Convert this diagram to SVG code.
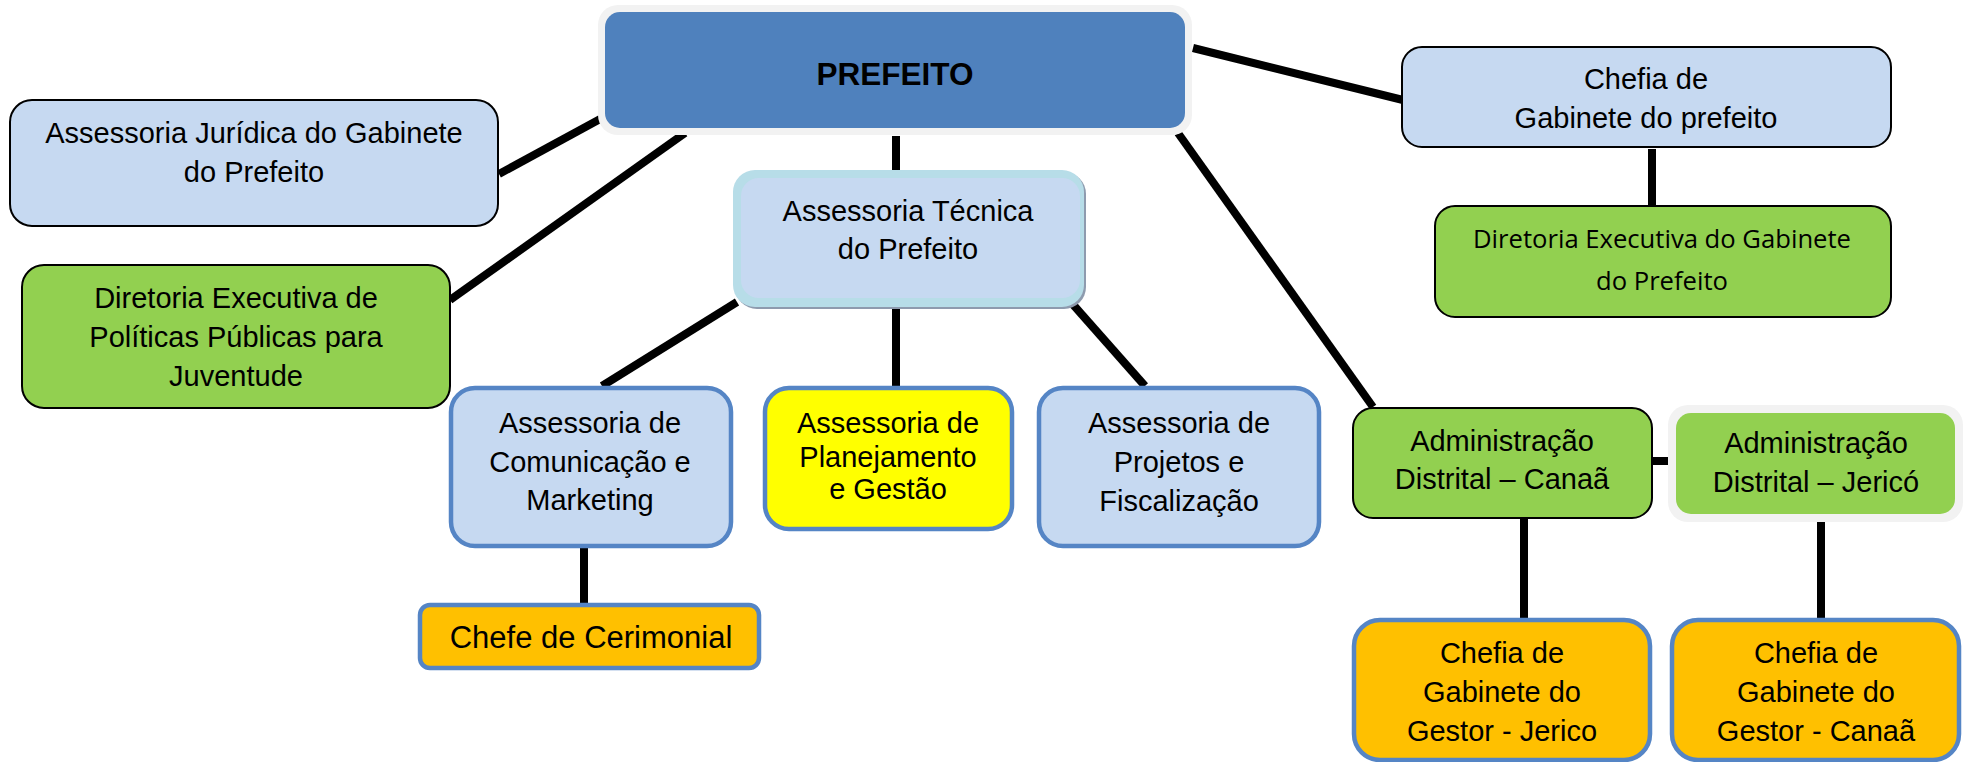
<svg xmlns="http://www.w3.org/2000/svg" width="1968" height="762" viewBox="0 0 1968 762">
<style>
text{font-family:"Liberation Sans",Arial,sans-serif;font-size:29px;fill:#000;text-anchor:middle}
.b{font-weight:bold;font-size:31.5px}
.cal{font-family:"Open Sans","Noto Sans",sans-serif;font-size:25px}
.lb{fill:#C6D9F1}
.gr{fill:#92D050}
.blk{stroke:#000;stroke-width:2}
.bb{stroke:#5585C5;stroke-width:4.5}
.or{fill:#FFC000}
.conn line{stroke:#000;stroke-width:8}
</style>
<rect width="1968" height="762" fill="#fff"/>
<g class="conn">
<line x1="602" y1="118" x2="499" y2="174"/>
<line x1="685" y1="133" x2="450" y2="300"/>
<line x1="896" y1="136" x2="896" y2="172"/>
<line x1="1193" y1="48" x2="1403" y2="100"/>
<line x1="1178" y1="133" x2="1373" y2="407"/>
<line x1="737" y1="302" x2="602" y2="386"/>
<line x1="896" y1="298" x2="896" y2="386"/>
<line x1="1069" y1="300" x2="1145" y2="386"/>
<line x1="584" y1="548" x2="584" y2="603"/>
<line x1="1652" y1="149" x2="1652" y2="206"/>
<line x1="1652" y1="461" x2="1672" y2="461"/>
<line x1="1524" y1="519" x2="1524" y2="618"/>
<line x1="1821" y1="518" x2="1821" y2="618"/>
</g>
<g id="prefeito">
<rect x="598" y="5" width="594" height="130" rx="20" fill="#F2F2F2"/>
<rect x="605" y="12" width="580" height="116" rx="15" fill="#4F81BD"/>
<text class="b" x="895" y="85">PREFEITO</text>
</g>
<g id="juridica">
<rect x="10" y="100" width="488" height="126" rx="22" class="lb blk"/>
<text x="254" y="143">Assessoria Jurídica do Gabinete</text>
<text x="254" y="182">do Prefeito</text>
</g>
<g id="juventude">
<rect x="22" y="265" width="428" height="143" rx="22" class="gr blk"/>
<text x="236" y="308">Diretoria Executiva de</text>
<text x="236" y="347">Políticas Públicas para</text>
<text x="236" y="386">Juventude</text>
</g>
<g id="tecnica">
<rect x="735" y="172" width="351" height="137" rx="22" fill="#8E9BAE"/>
<rect x="733" y="170" width="351" height="137" rx="22" fill="#B7DDE8"/>
<rect x="741" y="178" width="339" height="120" rx="18" fill="#C6D9F1"/>
<text x="908" y="221">Assessoria Técnica</text>
<text x="908" y="259">do Prefeito</text>
</g>
<g id="comunicacao">
<rect x="451" y="388" width="280" height="158" rx="24" class="lb bb"/>
<text x="590" y="433">Assessoria de</text>
<text x="590" y="472">Comunicação e</text>
<text x="590" y="510">Marketing</text>
</g>
<g id="planejamento">
<rect x="765" y="388" width="247" height="141" rx="24" fill="#FFFF00" class="bb"/>
<text x="888" y="433">Assessoria de</text>
<text x="888" y="467">Planejamento</text>
<text x="888" y="499">e Gestão</text>
</g>
<g id="projetos">
<rect x="1039" y="388" width="280" height="158" rx="24" class="lb bb"/>
<text x="1179" y="433">Assessoria de</text>
<text x="1179" y="472">Projetos e</text>
<text x="1179" y="511">Fiscalização</text>
</g>
<g id="cerimonial">
<rect x="420" y="605" width="339" height="63" rx="10" class="or bb"/>
<text x="591" y="648" style="font-size:31px">Chefe de Cerimonial</text>
</g>
<g id="chefia-gabinete">
<rect x="1402" y="47" width="489" height="100" rx="20" class="lb blk"/>
<text x="1646" y="89">Chefia de</text>
<text x="1646" y="128">Gabinete do prefeito</text>
</g>
<g id="diretoria-gabinete">
<rect x="1435" y="206" width="456" height="111" rx="20" class="gr blk"/>
<text class="cal" x="1662" y="248" textLength="378" lengthAdjust="spacingAndGlyphs">Diretoria Executiva do Gabinete</text>
<text class="cal" x="1662" y="290" textLength="132" lengthAdjust="spacingAndGlyphs">do Prefeito</text>
</g>
<g id="adm-canaa">
<rect x="1353" y="408" width="299" height="110" rx="20" class="gr blk"/>
<text x="1502" y="451">Administração</text>
<text x="1502" y="489">Distrital – Canaã</text>
</g>
<g id="adm-jerico">
<rect x="1668" y="405" width="295" height="117" rx="20" fill="#F2F2F2"/>
<rect x="1676" y="413" width="279" height="101" rx="15" fill="#92D050"/>
<text x="1816" y="453">Administração</text>
<text x="1816" y="492">Distrital – Jericó</text>
</g>
<g id="chefia-jerico">
<rect x="1354" y="620" width="296" height="140" rx="26" class="or bb"/>
<text x="1502" y="663">Chefia de</text>
<text x="1502" y="702">Gabinete do</text>
<text x="1502" y="741">Gestor - Jerico</text>
</g>
<g id="chefia-canaa">
<rect x="1672" y="620" width="287" height="140" rx="26" class="or bb"/>
<text x="1816" y="663">Chefia de</text>
<text x="1816" y="702">Gabinete do</text>
<text x="1816" y="741">Gestor - Canaã</text>
</g>
</svg>
